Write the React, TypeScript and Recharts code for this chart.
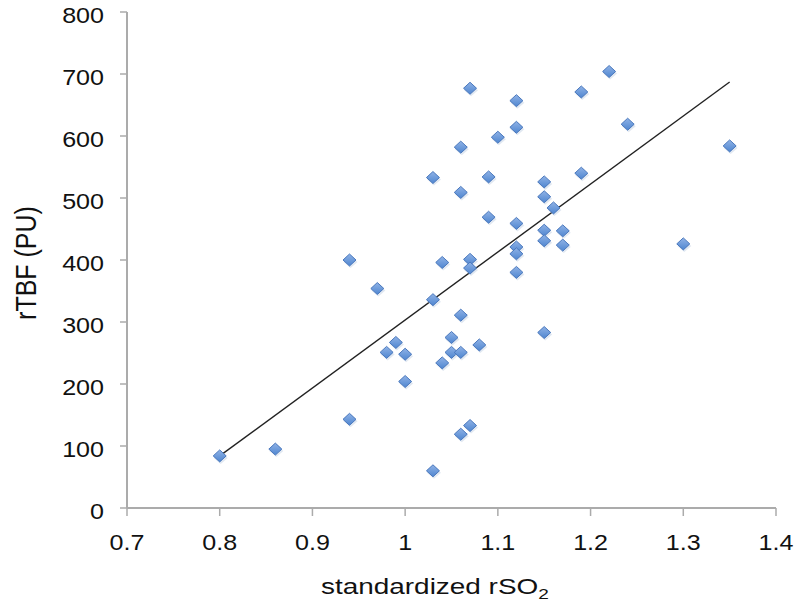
import React from 'react';
import { ScatterChart, Scatter, XAxis, YAxis, ReferenceLine, Label } from 'recharts';

// standardized rSO2 vs rTBF (PU)
const rso2 = [
  0.80, 0.86, 0.94, 0.94, 0.97, 0.98, 0.99, 1.00, 1.00, 1.03,
  1.03, 1.03, 1.04, 1.04, 1.05, 1.05, 1.06, 1.06, 1.06, 1.06,
  1.06, 1.07, 1.07, 1.07, 1.07, 1.08, 1.09, 1.09, 1.10, 1.12,
  1.12, 1.12, 1.12, 1.12, 1.12, 1.15, 1.15, 1.15, 1.15, 1.15,
  1.16, 1.17, 1.17, 1.19, 1.19, 1.22, 1.24, 1.30, 1.35,
];
const rtbf = [
  84, 95, 400, 143, 354, 251, 267, 248, 204, 533,
  336, 60, 396, 234, 275, 251, 582, 509, 311, 251,
  119, 677, 401, 387, 133, 263, 534, 469, 598, 657,
  614, 459, 421, 410, 380, 526, 502, 448, 431, 283,
  484, 447, 424, 671, 540, 704, 619, 426, 584,
];

// linear trend line end points
const trendX = [0.8, 1.35];
const trendY = [84, 687];

const xTicks = [0.7, 0.8, 0.9, 1, 1.1, 1.2, 1.3, 1.4];
const yTicks = [0, 100, 200, 300, 400, 500, 600, 700, 800];

const points = rso2.map((x, i) => ({ x, y: rtbf[i] }));

const FONT = '"Liberation Sans", Arial, sans-serif';
const AXIS = '#ababab';
const INK = '#111';

const Diamond = (props: any) => {
  const { cx, cy } = props;
  if (cx == null || cy == null) return null;
  const w = 6.5;
  const h = 6;
  return (
    <g>
      <polygon
        points={`${cx + 1},${cy - h + 2} ${cx + w + 1.5},${cy + 2} ${cx + 1},${cy + h + 2} ${cx - w + 0.5},${cy + 2}`}
        fill="#a9bcd8"
        opacity={0.35}
      />
      <polygon
        points={`${cx},${cy - h} ${cx + w},${cy} ${cx},${cy + h} ${cx - w},${cy}`}
        fill="url(#diamondFill)"
        stroke="#4a78bd"
        strokeWidth={1}
      />
    </g>
  );
};

const XTick = (props: any) => {
  const { x, y, payload } = props;
  return (
    <text
      transform={`translate(${x},${y}) scale(1.14,1)`}
      textAnchor="middle"
      dy={16}
      fontFamily={FONT}
      fontSize={22}
      fill={INK}
    >
      {payload.value}
    </text>
  );
};

const YTick = (props: any) => {
  const { x, y, payload } = props;
  return (
    <text
      transform={`translate(${x},${y}) scale(1.14,1)`}
      textAnchor="end"
      dy={11.3}
      fontFamily={FONT}
      fontSize={22}
      fill={INK}
    >
      {payload.value}
    </text>
  );
};

const XTitle = () => (
  <text
    transform="translate(321,594) scale(1.27,1)"
    textAnchor="start"
    fontFamily={FONT}
    fontSize={22}
    fill={INK}
  >
    standardized rSO
    <tspan fontSize={15} dy={5}>2</tspan>
  </text>
);

const YTitle = (props: any) => {
  const { viewBox } = props;
  const cy = viewBox.y + viewBox.height / 2 + 3;
  return (
    <text
      transform={`translate(36,${cy}) rotate(-90) scale(1,1.17)`}
      textAnchor="middle"
      fontFamily={FONT}
      fontSize={25}
      fill={INK}
    >
      rTBF (PU)
    </text>
  );
};

export default function App() {
  return (
    <div style={{ position: 'absolute', left: 0, top: 0, background: '#fff' }}>
      <ScatterChart width={800} height={609} margin={{ top: 12, right: 24, bottom: 41, left: 0 }}>
        <defs>
          <linearGradient id="diamondFill" x1="0" y1="0" x2="0" y2="1">
            <stop offset="0%" stopColor="#8fb2e6" />
            <stop offset="100%" stopColor="#4f86d0" />
          </linearGradient>
        </defs>
        <XAxis
          type="number"
          dataKey="x"
          domain={[0.7, 1.4]}
          ticks={xTicks}
          height={60}
          axisLine={{ stroke: AXIS, strokeWidth: 2 }}
          tickLine={{ stroke: AXIS, strokeWidth: 1.5 }}
          tickSize={8}
          tickMargin={18}
          tick={<XTick />}
          allowDataOverflow
        >
          <Label content={<XTitle />} />
        </XAxis>
        <YAxis
          type="number"
          dataKey="y"
          domain={[0, 800]}
          ticks={yTicks}
          width={127}
          axisLine={{ stroke: AXIS, strokeWidth: 2 }}
          tickLine={{ stroke: AXIS, strokeWidth: 1.5 }}
          tickSize={7}
          tickMargin={16}
          tick={<YTick />}
          allowDataOverflow
        >
          <Label content={<YTitle />} />
        </YAxis>
        <ReferenceLine
          segment={[
            { x: trendX[0], y: trendY[0] },
            { x: trendX[1], y: trendY[1] },
          ]}
          stroke="#222"
          strokeWidth={1.4}
          ifOverflow="visible"
        />
        <Scatter data={points} shape={<Diamond />} isAnimationActive={false} />
      </ScatterChart>
    </div>
  );
}
